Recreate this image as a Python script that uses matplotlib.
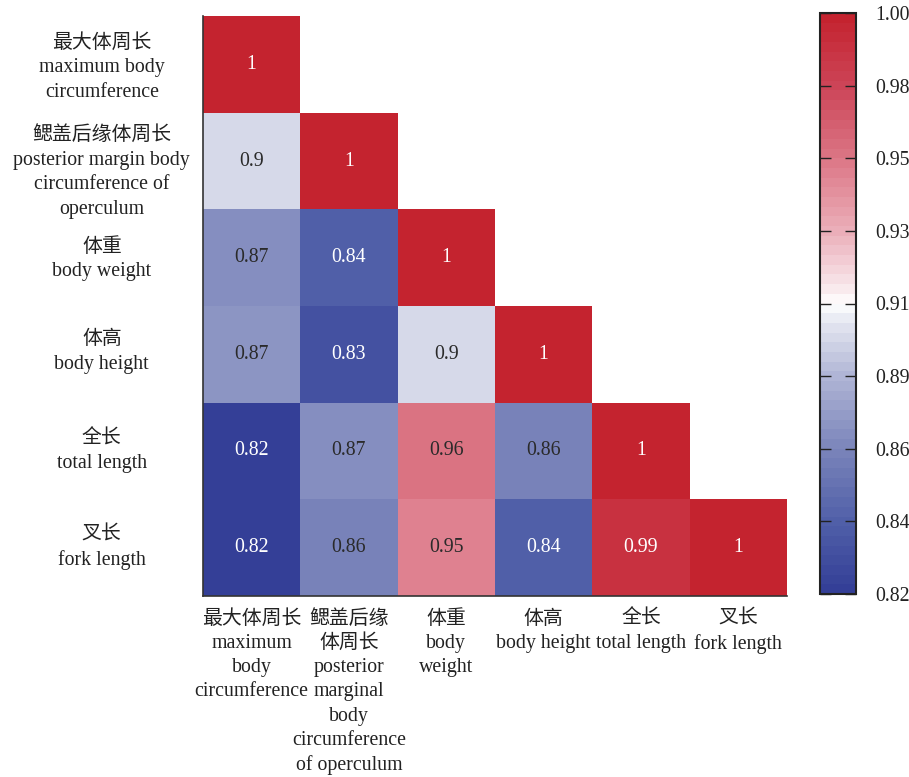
import numpy as np
import matplotlib
matplotlib.use("Agg")
import matplotlib.pyplot as plt
import seaborn as sns
from matplotlib.colors import LinearSegmentedColormap, to_rgb

plt.rcParams['font.family'] = ['Liberation Serif', 'Noto Sans CJK SC']

y_labels = [
    "最大体周长\nmaximum body\ncircumference",
    "鳃盖后缘体周长\nposterior margin body\ncircumference of\noperculum",
    "体重\nbody weight",
    "体高\nbody height",
    "全长\ntotal length",
    "叉长\nfork length",
]
x_labels = [
    "最大体周长\nmaximum\nbody\ncircumference",
    "鳃盖后缘\n体周长\nposterior\nmarginal\nbody\ncircumference\nof operculum",
    "体重\nbody\nweight",
    "体高\nbody height",
    "全长\ntotal length",
    "叉长\nfork length",
]

# lower-triangle correlation values (row i, columns 0..i)
row0 = [1.0]
row1 = [0.899, 1.0]
row2 = [0.868, 0.843, 1.0]
row3 = [0.871, 0.832, 0.900, 1.0]
row4 = [0.822, 0.869, 0.958, 0.862, 1.0]
row5 = [0.820, 0.863, 0.952, 0.843, 0.990, 1.0]
rows = [row0, row1, row2, row3, row4, row5]

n = len(rows)
corr = np.ones((n, n))
for i, r in enumerate(rows):
    for j, v in enumerate(r):
        corr[i, j] = v
        corr[j, i] = v
mask = np.triu(np.ones((n, n), dtype=bool), k=1)

vmin, vmax = 0.82, 1.0
stops = [
    (0.0, "#343F97"),
    (0.125, "#5261A9"),
    (0.25, "#7C86BB"),
    (0.375, "#B1B6D6"),
    (0.47, "#E6E8F2"),
    (0.5, "#FFFFFF"),
    (0.53, "#F8E6EA"),
    (0.625, "#EBAFBA"),
    (0.75, "#DC7887"),
    (0.875, "#CD4659"),
    (1.0, "#C4232F"),
]
cmap = LinearSegmentedColormap.from_list("bwr_custom", stops, N=60)

FS = 14.3
LS = 1.4

fig = plt.figure(figsize=(9.09, 7.77), dpi=100)
W, H = 909, 777
ax = fig.add_axes([203 / W, 1 - 596 / H, (787 - 203) / W, (596 - 16) / H])
cax = fig.add_axes([820 / W, 1 - 594 / H, (856 - 820) / W, (594 - 13) / H])

sns.heatmap(corr, mask=mask, cmap=cmap, vmin=vmin, vmax=vmax, annot=False,
            ax=ax, cbar_ax=cax, square=False,
            xticklabels=x_labels, yticklabels=y_labels)

def lum(c):
    rgb = np.array(to_rgb(c))
    rgb = np.where(rgb <= 0.03928, rgb / 12.92, ((rgb + 0.055) / 1.055) ** 2.4)
    return 0.2126 * rgb[0] + 0.7152 * rgb[1] + 0.0722 * rgb[2]

norm = plt.Normalize(vmin, vmax)
for i in range(n):
    for j in range(i + 1):
        v = corr[i, j]
        col = cmap(norm(v))
        tc = "#2a2a2a" if lum(col) > 0.2 else "white"
        ax.text(j + 0.5, i + 0.5, f"{v:.2g}", ha="center", va="center",
                fontsize=FS, color=tc)

# small vertical nudges of the row labels (layout only)
y_nudge = [0.035, 0.12, 0.02, -0.025, 0.0, 0.0]
ax.set_yticks(np.arange(n) + 0.5 + np.array(y_nudge))
ax.tick_params(axis="both", length=0, labelsize=FS, colors="#222222")
ax.set_yticklabels(y_labels, rotation=0, ha="center", multialignment="center", linespacing=LS)
ax.set_xticklabels(x_labels, rotation=0, ha="center", va="top", multialignment="center", linespacing=1.37)
for lab in ax.get_yticklabels():
    lab.set_x(-0.165)
ax.tick_params(axis="x", pad=10)
for side in ["left", "bottom"]:
    ax.spines[side].set_visible(True)
    ax.spines[side].set_color("#333333")
    ax.spines[side].set_linewidth(1.2)

ticks = np.linspace(vmin, vmax, 9)
cb = ax.collections[0].colorbar
cb.set_ticks(ticks)
cb.set_ticklabels([f"{t:.2f}" for t in ticks])
cax.tick_params(axis="y", direction="in", length=8, width=1, left=True, right=True,
                labelsize=FS, pad=14, colors="#222222")
cb.outline.set_visible(True)
cb.outline.set_edgecolor("#222222")
cb.outline.set_linewidth(1.5)

fig.savefig("out.png", dpi=100)
